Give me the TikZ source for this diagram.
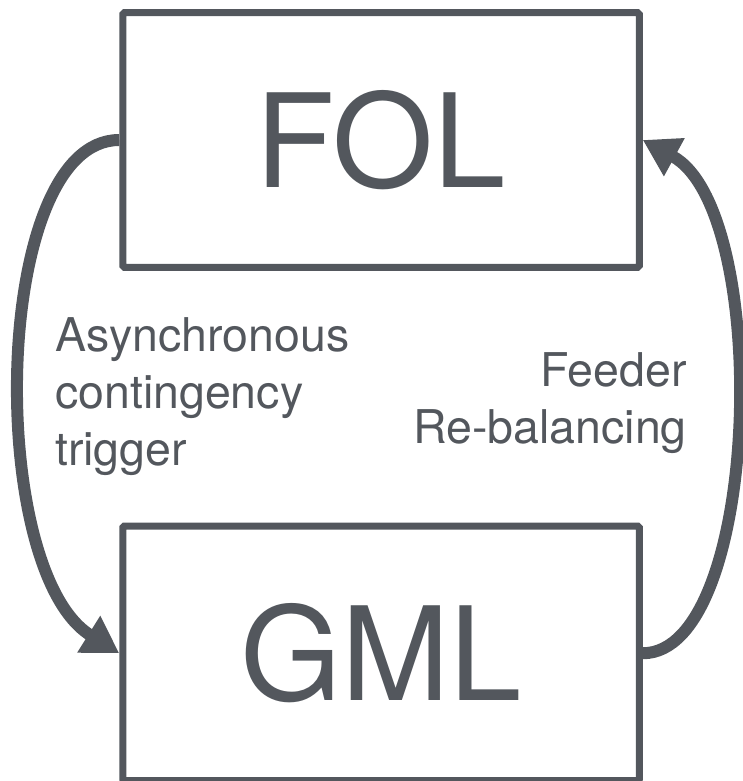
\documentclass[tikz,border=0pt]{standalone}
\usepackage{fontspec}
\setmainfont{TeX Gyre Heros}
\usetikzlibrary{positioning, arrows.meta}
\definecolor{graphite}{RGB}{83,87,93}

\begin{document}
\begin{tikzpicture}[
    blk/.style={draw=graphite, line width=7pt, rounded corners=1.5pt, minimum width=516.5pt,
                minimum height=254.5pt, inner sep=0pt, text=graphite,
                font=\fontsize{130}{130}\selectfont},
    lbl/.style={inner sep=0pt, text=graphite, font=\fontsize{46.5}{57}\selectfont},
    flow/.style={draw=graphite, line width=12pt, -{Triangle[length=36pt, width=41pt]}}
  ]
  \useasboundingbox (0,0) rectangle (742pt,-781pt);
  \node[blk] (fol) at (381pt,-140pt) {FOL};
  \node[blk, below=251.75pt of fol] (gml) {GML};
  \node[lbl, align=left, anchor=north west] (trig) at (55pt,-317pt) {Asynchronous\\contingency\\trigger};
  \node[lbl, align=right, anchor=north east] (feed) at (687pt,-352pt) {Feeder\\Re-balancing};
  \draw[flow] (fol.west) .. controls +(-128pt,0) and +(148:158pt) .. (gml.west);
  \draw[flow] (gml.east) .. controls +(118pt,0) and +(-28.6:148pt) .. (fol.east);
\end{tikzpicture}
\end{document}
